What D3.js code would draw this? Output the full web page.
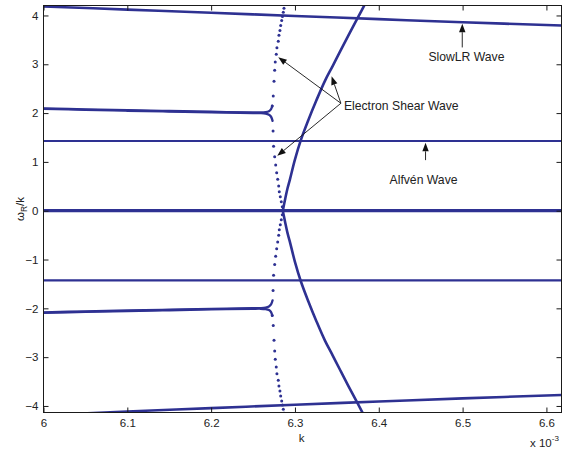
<!DOCTYPE html>
<html>
<head>
<meta charset="utf-8">
<script src="https://cdn.jsdelivr.net/npm/d3@7"></script>
<style>
  body { margin: 0; background: #fff; }
  svg { display: block; }
  text { font-family: "Liberation Sans", Arial, Helvetica, sans-serif; fill: #222; }
</style>
</head>
<body>
<svg id="chart" width="567" height="457"></svg>
<script>
// Phase speed ω_R/k versus wavenumber k (k in units of 1e-3)
const kDomain = [6, 6.618];
const vDomain = [-4.134, 4.204];
const xTicks = [6, 6.1, 6.2, 6.3, 6.4, 6.5, 6.6];
const yTicks = [-4, -3, -2, -1, 0, 1, 2, 3, 4];

// SlowLR wave, positive and negative roots
const slowUpper = [[6.0, 4.184], [6.1, 4.12], [6.2, 4.055], [6.3, 3.99], [6.4, 3.925], [6.5, 3.86], [6.618, 3.795]];
const slowLower = [[6.0, -4.19], [6.1, -4.115], [6.2, -4.045], [6.3, -3.975], [6.4, -3.91], [6.5, -3.845], [6.618, -3.775]];

// Alfvén wave and the zero root
const alfvenUpper = [[6.0, 1.427], [6.618, 1.427]];
const alfvenLower = [[6.0, -1.427], [6.618, -1.427]];
const zeroRoot = [[6.0, 0], [6.618, 0]];

// Nearly degenerate pair near |ω_R/k| ≈ 2 that splits close to k = 6.27
const pairUpperA = [[6.0, 2.098], [6.05, 2.078], [6.1, 2.06], [6.15, 2.043], [6.2, 2.027], [6.25, 2.013], [6.258, 2.012], [6.265, 2.02], [6.269, 2.04], [6.2715, 2.08], [6.2729, 2.15]];
const pairUpperB = [[6.0, 2.086], [6.05, 2.066], [6.1, 2.048], [6.15, 2.031], [6.2, 2.015], [6.25, 2.001], [6.258, 1.999], [6.265, 1.99], [6.269, 1.965], [6.2715, 1.925], [6.2733, 1.84]];
const pairLowerA = [[6.0, -2.094], [6.05, -2.074], [6.1, -2.056], [6.15, -2.039], [6.2, -2.023], [6.25, -2.009], [6.258, -2.008], [6.265, -2.016], [6.269, -2.036], [6.2715, -2.076], [6.2729, -2.146]];
const pairLowerB = [[6.0, -2.082], [6.05, -2.062], [6.1, -2.044], [6.15, -2.027], [6.2, -2.011], [6.25, -1.997], [6.258, -1.995], [6.265, -1.986], [6.269, -1.961], [6.2715, -1.921], [6.2733, -1.836]];

// Electron shear wave: sparse steep branch (plotted as separate points)
const shearOuterUpper = [[6.2869, 4.149], [6.2861, 4.067], [6.2851, 3.98], [6.2842, 3.898], [6.2830, 3.796], [6.2821, 3.694], [6.2809, 3.592], [6.2801, 3.474], [6.2785, 3.339], [6.2777, 3.203], [6.2765, 3.045], [6.2758, 2.876], [6.2750, 2.652], [6.2741, 2.350], [6.2729, 2.146]];
const shearInnerUpper = [[6.2739, 1.635], [6.2745, 1.322], [6.2758, 1.104], [6.2770, 0.934], [6.2782, 0.777], [6.2794, 0.642], [6.2806, 0.505], [6.2813, 0.388], [6.2825, 0.286], [6.2837, 0.184], [6.2849, 0.082]];
const shearOuterLower = [[6.2869, -4.149], [6.2861, -4.067], [6.2851, -3.98], [6.2842, -3.898], [6.2830, -3.796], [6.2821, -3.694], [6.2809, -3.592], [6.2801, -3.474], [6.2785, -3.339], [6.2777, -3.203], [6.2765, -3.045], [6.2758, -2.876], [6.2750, -2.652], [6.2741, -2.350], [6.2729, -2.146]];
const shearInnerLower = [[6.2739, -1.635], [6.2745, -1.322], [6.2758, -1.104], [6.2770, -0.934], [6.2782, -0.777], [6.2794, -0.642], [6.2806, -0.505], [6.2813, -0.388], [6.2825, -0.286], [6.2837, -0.184], [6.2849, -0.082]];

// Electron shear wave: dense branch sweeping to larger k
const shearRightUpper = [[6.2855, 0], [6.2869, 0.12], [6.2884, 0.245], [6.2910, 0.45], [6.2938, 0.627], [6.2998, 1.036], [6.3070, 1.445], [6.3159, 1.854], [6.3256, 2.263], [6.3358, 2.661], [6.3451, 2.968], [6.3542, 3.274], [6.3638, 3.592], [6.3745, 3.938], [6.3858, 4.306]];
const shearRightLower = [[6.2855, 0], [6.2869, -0.12], [6.2884, -0.245], [6.2910, -0.45], [6.2938, -0.627], [6.2998, -1.036], [6.3070, -1.445], [6.3159, -1.854], [6.3256, -2.263], [6.3358, -2.661], [6.3451, -2.968], [6.3542, -3.274], [6.3638, -3.592], [6.3745, -3.938], [6.3858, -4.306]];

// Annotation labels and arrows (data coordinates)
const labels = [
  { text: "SlowLR Wave", at: [6.5046, 3.063], anchor: "middle" },
  { text: "Alfvén Wave", at: [6.4534, 0.546], anchor: "middle" },
  { text: "Electron Shear Wave", at: [6.3584, 2.068], anchor: "start" }
];
const arrows = [
  { from: [6.4996, 3.345], to: [6.4996, 3.83] },
  { from: [6.4558, 1.036], to: [6.4558, 1.39] },
  { from: [6.3548, 2.201], to: [6.2801, 3.145] },
  { from: [6.3548, 2.201], to: [6.3437, 2.753] },
  { from: [6.3548, 2.201], to: [6.2789, 1.124] }
];

const blue = "#2e3192";
const frame = { left: 43.5, right: 561.5, top: 5.5, bottom: 412.5 };

const svg = d3.select("#chart");
const x = d3.scaleLinear().domain(kDomain).range([frame.left, frame.right]);
const y = d3.scaleLinear().domain(vDomain).range([frame.bottom, frame.top]);

svg.append("defs").append("clipPath").attr("id", "plotClip")
  .append("rect").attr("x", frame.left).attr("y", frame.top)
  .attr("width", frame.right - frame.left).attr("height", frame.bottom - frame.top);

const plot = svg.append("g").attr("clip-path", "url(#plotClip)");

const straight = d3.line().x(d => x(d[0])).y(d => y(d[1]));
const smooth = d3.line().x(d => x(d[0])).y(d => y(d[1])).curve(d3.curveCatmullRom.alpha(0.5));

function drawLine(data, width, gen) {
  plot.append("path").datum(data)
    .attr("d", gen || smooth)
    .attr("fill", "none")
    .attr("stroke", blue)
    .attr("stroke-width", width)
    .attr("stroke-linejoin", "round")
    .attr("stroke-linecap", "round");
}

function drawDots(data) {
  plot.append("g").selectAll("circle").data(data).join("circle")
    .attr("cx", d => x(d[0]))
    .attr("cy", d => y(d[1]))
    .attr("r", 1.5)
    .attr("fill", blue);
}

drawLine(zeroRoot, 3.3, straight);
drawLine(alfvenUpper, 2.1, straight);
drawLine(alfvenLower, 2.1, straight);
drawLine(slowUpper, 2.6);
drawLine(slowLower, 2.6);
[pairUpperA, pairUpperB, pairLowerA, pairLowerB].forEach(d => drawLine(d, 2.3));
drawLine(shearRightUpper, 2.6);
drawLine(shearRightLower, 2.6);
[shearOuterUpper, shearInnerUpper, shearOuterLower, shearInnerLower].forEach(drawDots);

// Axes with inward ticks on all four sides
const axisColor = "#1a1a1a";
function styleAxis(g) {
  g.select(".domain").remove();
  g.selectAll(".tick line").attr("stroke", axisColor);
  g.selectAll(".tick text").style("font-size", "11.5px").attr("fill", "#222");
}

svg.append("g").attr("transform", `translate(0,${frame.bottom})`)
  .call(d3.axisBottom(x).tickValues(xTicks).tickSize(-5).tickPadding(6).tickFormat(d3.format("")))
  .call(styleAxis);
svg.append("g").attr("transform", `translate(0,${frame.top})`)
  .call(d3.axisTop(x).tickValues(xTicks).tickSize(-5).tickFormat(""))
  .call(styleAxis);
svg.append("g").attr("transform", `translate(${frame.left},0)`)
  .call(d3.axisLeft(y).tickValues(yTicks).tickSize(-5).tickPadding(5).tickFormat(d3.format("")))
  .call(styleAxis);
svg.append("g").attr("transform", `translate(${frame.right},0)`)
  .call(d3.axisRight(y).tickValues(yTicks).tickSize(-5).tickFormat(""))
  .call(styleAxis);

svg.append("rect")
  .attr("x", frame.left).attr("y", frame.top)
  .attr("width", frame.right - frame.left).attr("height", frame.bottom - frame.top)
  .attr("fill", "none").attr("stroke", axisColor).attr("stroke-width", 1);

// Axis titles
svg.append("text").attr("x", 301.7).attr("y", 442)
  .attr("text-anchor", "middle").style("font-size", "11.5px").text("k");

const expo = svg.append("text").attr("x", 530).attr("y", 447).style("font-size", "11.5px");
expo.append("tspan").text("x 10");
expo.append("tspan").attr("dy", -6).style("font-size", "8px").text("-3");

const yTitle = svg.append("text")
  .attr("transform", "translate(23.5,209) rotate(-90)")
  .attr("text-anchor", "middle").style("font-size", "11.5px");
yTitle.append("tspan").text("ω");
yTitle.append("tspan").attr("dy", 3).style("font-size", "8.5px").text("R");
yTitle.append("tspan").attr("dy", -3).text("/k");

// Annotations
const notes = svg.append("g");
labels.forEach(l => {
  notes.append("text")
    .attr("x", x(l.at[0])).attr("y", y(l.at[1]))
    .attr("text-anchor", l.anchor)
    .style("font-size", "12.2px")
    .text(l.text);
});

arrows.forEach(a => {
  const x0 = x(a.from[0]), y0 = y(a.from[1]);
  const x1 = x(a.to[0]), y1 = y(a.to[1]);
  const dx = x1 - x0, dy = y1 - y0, len = Math.hypot(dx, dy);
  const ux = dx / len, uy = dy / len;
  const headLen = 8.5, headHalf = 3.2;
  const bx = x1 - ux * headLen, by = y1 - uy * headLen;
  notes.append("line")
    .attr("x1", x0).attr("y1", y0).attr("x2", bx).attr("y2", by)
    .attr("stroke", "#111").attr("stroke-width", 0.9);
  notes.append("path")
    .attr("d", `M${x1},${y1}L${bx - uy * headHalf},${by + ux * headHalf}L${bx + uy * headHalf},${by - ux * headHalf}Z`)
    .attr("fill", "#111");
});
</script>
</body>
</html>
